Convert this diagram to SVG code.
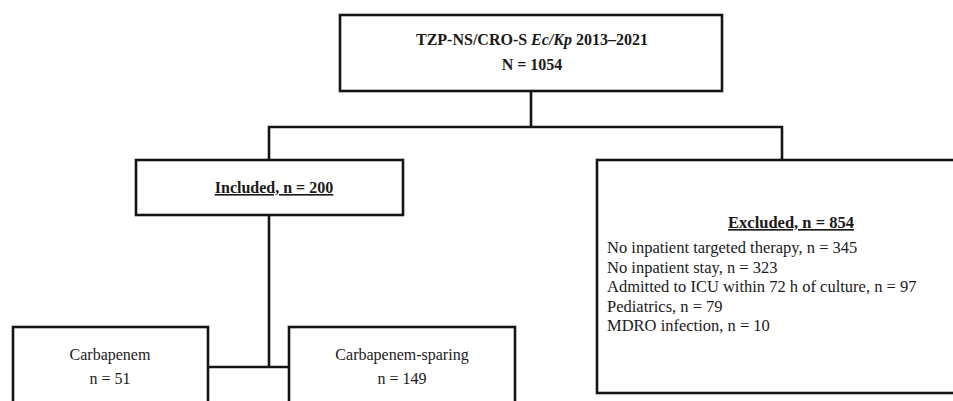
<svg xmlns="http://www.w3.org/2000/svg" width="953" height="401" viewBox="0 0 953 401">
<style>
.box{fill:#fff;stroke:#141414;stroke-width:2.6}
.ln{fill:none;stroke:#141414;stroke-width:2.6}
text{font-family:"Liberation Serif","Times New Roman",serif;fill:#1a1a1a;font-size:16px}
.b{font-weight:bold}
.c{text-anchor:middle}
.u{text-decoration:underline}
.x{font-size:16.5px}
</style>
<rect width="953" height="401" fill="#fff"/>
<g id="connectors">
<line class="ln" x1="531" y1="91" x2="531" y2="127"/>
<polyline class="ln" points="269,160 269,127 782,127 782,160"/>
<line class="ln" x1="269" y1="215" x2="269" y2="367"/>
<line class="ln" x1="208" y1="367" x2="289" y2="367"/>
</g>
<g id="source">
<rect class="box" x="340" y="15" width="382" height="76"/>
<text class="b c" x="532" y="45">TZP-NS/CRO-S <tspan font-style="italic">Ec/Kp</tspan> 2013–2021</text>
<text class="b c" x="532" y="70">N = 1054</text>
</g>
<g id="included">
<rect class="box" x="136" y="160" width="267" height="55"/>
<text class="b c u" x="274" y="193" font-size="16.5">Included, n = 200</text>
</g>
<g id="excluded">
<rect class="box" x="597" y="160" width="390" height="233"/>
<text class="b c u x" x="791" y="228">Excluded, n = 854</text>
<text class="x" x="607" y="253">No inpatient targeted therapy, n = 345</text>
<text class="x" x="607" y="273">No inpatient stay, n = 323</text>
<text class="x" x="607" y="292">Admitted to ICU within 72 h of culture, n = 97</text>
<text class="x" x="607" y="312">Pediatrics, n = 79</text>
<text class="x" x="607" y="331">MDRO infection, n = 10</text>
</g>
<g id="carbapenem">
<rect class="box" x="13" y="327" width="195" height="90"/>
<text class="c" x="110" y="360">Carbapenem</text>
<text class="c" x="110" y="384">n = 51</text>
</g>
<g id="sparing">
<rect class="box" x="289" y="327" width="226" height="90"/>
<text class="c" x="402" y="360">Carbapenem-sparing</text>
<text class="c" x="402" y="384">n = 149</text>
</g>
</svg>
